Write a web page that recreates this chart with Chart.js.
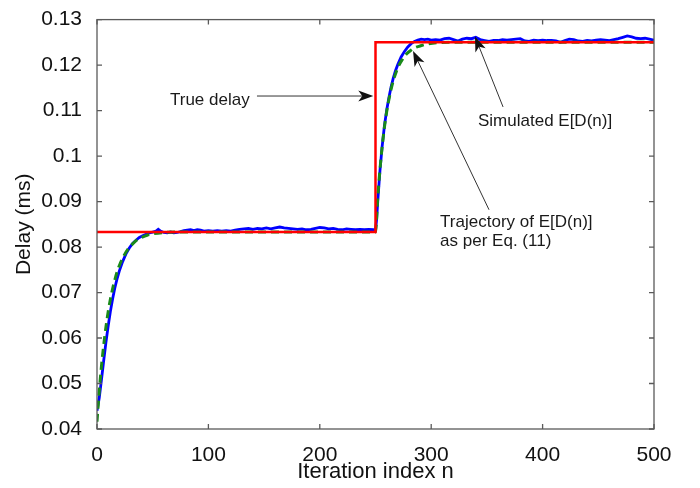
<!DOCTYPE html>
<html>
<head>
<meta charset="utf-8">
<script src="https://cdn.jsdelivr.net/npm/chart.js@4.4.1/dist/chart.umd.min.js"></script>
<style>
  html, body { margin: 0; padding: 0; background: #fff; }
  #wrap { width: 700px; height: 488px; }
</style>
</head>
<body>
<div id="wrap"><canvas id="myChart" width="700" height="488"></canvas></div>
<script>
// True delay (red step)
let trueN = [0, 250, 250, 500];
let trueD = [0.08333, 0.08333, 0.125, 0.125];

// Trajectory of E[D(n)] as per Eq. (11) (green dashed)
let trajN = [0, 2, 4, 6, 8, 10, 12, 14, 16, 18, 20, 24, 28, 32, 36, 40, 45, 50, 60, 70,
  250, 252, 254, 256, 258, 260, 262, 264, 266, 268, 270, 274, 278, 282, 286, 290, 296, 305, 320, 500];
let trajD = [0.0416, 0.0482, 0.0538, 0.0584, 0.0624, 0.0657, 0.0685, 0.0708, 0.0728, 0.0745,
  0.0759, 0.0780, 0.0796, 0.0807, 0.0816, 0.0821, 0.0826, 0.0829, 0.0832, 0.0833,
  0.0833, 0.0909, 0.0970, 0.1021, 0.1063, 0.1097, 0.1124, 0.1147, 0.1166, 0.1181,
  0.1194, 0.1212, 0.1225, 0.1233, 0.1239, 0.1242, 0.1246, 0.1249, 0.1250, 0.1250];

// Simulated E[D(n)] (blue)
let simN = [0, 2, 4, 6, 8, 10, 12, 14, 16, 18, 20, 23, 26, 29, 32, 35, 38, 41, 44, 47,
  50, 53, 55, 57, 60, 63, 66, 69, 72, 75, 78, 81, 84, 87, 90, 93, 96, 100, 104, 108,
  112, 116, 120, 124, 128, 132, 136, 140, 144, 148, 152, 156, 160, 164, 168, 172, 176, 180, 184, 188,
  192, 196, 200, 204, 208, 212, 216, 220, 224, 228, 232, 236, 240, 244, 248, 250,
  251, 252, 254, 256, 258, 260, 262, 264, 266, 268, 270, 273, 276, 279, 282, 285, 288, 291, 294, 297,
  300, 304, 308, 312, 316, 320, 324, 328, 332, 336, 340, 344, 348, 352, 356, 360, 364, 368, 372, 376,
  380, 384, 388, 392, 396, 400, 404, 408, 412, 416, 420, 424, 428, 432, 436, 440, 444, 448, 452, 456,
  460, 464, 468, 472, 476, 480, 484, 488, 492, 496, 500];
let simD = [0.0440, 0.0468, 0.0508, 0.0550, 0.0590, 0.0626, 0.0658, 0.0686, 0.0710, 0.0730,
  0.0747, 0.0768, 0.0785, 0.0798, 0.0808, 0.0815, 0.0821, 0.0825, 0.0828, 0.0831,
  0.0833, 0.0835, 0.0839, 0.0835, 0.0832, 0.0831, 0.0833, 0.0831, 0.0832, 0.0834,
  0.0836, 0.0837, 0.0838, 0.0836, 0.0838, 0.0837, 0.0835, 0.0836, 0.0835, 0.0836,
  0.0835, 0.0836, 0.0835, 0.0837, 0.0839, 0.0840, 0.0841, 0.0839, 0.0841, 0.0840,
  0.0842, 0.0840, 0.0842, 0.0844, 0.0842, 0.0841, 0.0840, 0.0839, 0.0840, 0.0838,
  0.0839, 0.0841, 0.0843, 0.0842, 0.0840, 0.0841, 0.0839, 0.0838, 0.0840, 0.0839,
  0.0838, 0.0839, 0.0838, 0.0839, 0.0838, 0.0837,
  0.0860, 0.0900, 0.0968, 0.1022, 0.1066, 0.1100, 0.1128, 0.1152, 0.1172, 0.1188,
  0.1201, 0.1218, 0.1230, 0.1240, 0.1247, 0.1252, 0.1255, 0.1257, 0.1256, 0.1257,
  0.1255, 0.1256, 0.1255, 0.1258, 0.1259, 0.1256, 0.1253, 0.1257, 0.1259, 0.1258,
  0.1261, 0.1256, 0.1254, 0.1252, 0.1254, 0.1254, 0.1256, 0.1255, 0.1256, 0.1257,
  0.1258, 0.1253, 0.1252, 0.1255, 0.1254, 0.1255, 0.1254, 0.1254, 0.1253, 0.1250,
  0.1254, 0.1257, 0.1256, 0.1253, 0.1252, 0.1254, 0.1253, 0.1255, 0.1256, 0.1255,
  0.1254, 0.1256, 0.1258, 0.1261, 0.1264, 0.1262, 0.1259, 0.1258, 0.1259, 0.1257, 0.1255];

let xTicks = [0, 100, 200, 300, 400, 500];
let yTicks = [0.04, 0.05, 0.06, 0.07, 0.08, 0.09, 0.1, 0.11, 0.12, 0.13];
let yTickLabels = ['0.04', '0.05', '0.06', '0.07', '0.08', '0.09', '0.1', '0.11', '0.12', '0.13'];

// annotation texts, placed in data units
let noteLines = [['True delay'], ['Simulated E[D(n)]'], ['Trajectory of E[D(n)]', 'as per Eq. (11)']];
let noteAt = [[65.5, 0.1123], [342, 0.1076], [308, 0.0854]];
// arrows: [fromN, fromD, tipN, tipD]
let arrows = [[143.6, 0.1132, 248, 0.1132], [364.5, 0.1108, 339.3, 0.1263], [351.9, 0.0882, 283.7, 0.1231]];

const FONT = "'Liberation Sans', Arial, Helvetica, sans-serif";

function pts(ns, ds) {
  return ns.map((n, i) => ({x: n, y: ds[i]}));
}

function drawArrow(ctx, x1, y1, x2, y2) {
  const ang = Math.atan2(y2 - y1, x2 - x1);
  const len = 15, half = 5.5, notch = 4;
  ctx.strokeStyle = '#333';
  ctx.lineWidth = 1;
  ctx.beginPath();
  ctx.moveTo(x1, y1);
  ctx.lineTo(x2 - Math.cos(ang) * (len - notch), y2 - Math.sin(ang) * (len - notch));
  ctx.stroke();
  ctx.save();
  ctx.translate(x2, y2);
  ctx.rotate(ang);
  ctx.fillStyle = '#111';
  ctx.beginPath();
  ctx.moveTo(0, 0);
  ctx.lineTo(-len, -half);
  ctx.lineTo(-len + notch, 0);
  ctx.lineTo(-len, half);
  ctx.closePath();
  ctx.fill();
  ctx.restore();
}

const framePlugin = {
  id: 'frame',
  afterDraw(chart) {
    const ctx = chart.ctx;
    const a = chart.chartArea;
    const xs = chart.scales.x, ys = chart.scales.y;
    ctx.save();
    ctx.strokeStyle = '#5a5a5a';
    ctx.lineWidth = 1.3;
    ctx.strokeRect(a.left, a.top, a.right - a.left, a.bottom - a.top);
    ctx.beginPath();
    xTicks.forEach(v => {
      const px = xs.getPixelForValue(v);
      ctx.moveTo(px, a.bottom); ctx.lineTo(px, a.bottom - 5);
      ctx.moveTo(px, a.top); ctx.lineTo(px, a.top + 5);
    });
    yTicks.forEach(v => {
      const py = ys.getPixelForValue(v);
      ctx.moveTo(a.left, py); ctx.lineTo(a.left + 5, py);
      ctx.moveTo(a.right, py); ctx.lineTo(a.right - 5, py);
    });
    ctx.stroke();

    // annotations
    ctx.fillStyle = '#1a1a1a';
    ctx.font = '17px ' + FONT;
    ctx.textAlign = 'left';
    ctx.textBaseline = 'middle';
    noteLines.forEach((lines, i) => {
      const px = xs.getPixelForValue(noteAt[i][0]);
      const py = ys.getPixelForValue(noteAt[i][1]);
      lines.forEach((t, j) => ctx.fillText(t, px, py + j * 19));
    });
    arrows.forEach(r => {
      drawArrow(ctx, xs.getPixelForValue(r[0]), ys.getPixelForValue(r[1]),
        xs.getPixelForValue(r[2]), ys.getPixelForValue(r[3]));
    });
    ctx.restore();
  }
};

const data = {
  datasets: [
    {
      label: 'True delay',
      data: pts(trueN, trueD),
      borderColor: '#ff0000',
      borderWidth: 2.5,
      pointRadius: 0
    },
    {
      label: 'Trajectory of E[D(n)]',
      data: pts(trajN, trajD),
      borderColor: '#1a8a1a',
      borderWidth: 3,
      borderDash: [8, 5],
      pointRadius: 0,
      cubicInterpolationMode: 'monotone'
    },
    {
      label: 'Simulated E[D(n)]',
      data: pts(simN, simD),
      borderColor: '#0000ff',
      borderWidth: 2.8,
      pointRadius: 0
    }
  ]
};

const config = {
  type: 'line',
  data,
  options: {
    responsive: false,
    animation: false,
    events: [],
    layout: { padding: { top: 11, right: 46, left: 0, bottom: 0 } },
    plugins: { legend: { display: false }, tooltip: { enabled: false } },
    scales: {
      x: {
        type: 'linear',
        min: 0,
        max: 500,
        grid: { display: false },
        border: { display: false },
        afterBuildTicks: s => { s.ticks = xTicks.map(v => ({value: v})); },
        afterFit: s => { s.height = 59; },
        ticks: { padding: 6, color: '#111', font: { family: FONT, size: 21 }, maxRotation: 0 },
        title: { display: true, text: 'Iteration index n', color: '#111',
          font: { family: FONT, size: 22 }, padding: { top: 0, bottom: 3 } }
      },
      y: {
        type: 'linear',
        min: 0.04,
        max: 0.13,
        grid: { display: false },
        border: { display: false },
        afterBuildTicks: s => { s.ticks = yTicks.map(v => ({value: v})); },
        afterFit: s => { s.width = 97; },
        ticks: {
          padding: 7, color: '#111', font: { family: FONT, size: 21 },
          callback: v => yTickLabels[yTicks.findIndex(t => Math.abs(t - v) < 1e-6)]
        },
        title: { display: true, text: 'Delay (ms)', color: '#111',
          font: { family: FONT, size: 21 }, padding: { top: 12, bottom: 0 } }
      }
    }
  },
  plugins: [framePlugin]
};

let myChart = new Chart(document.getElementById('myChart'), config);
</script>
</body>
</html>
